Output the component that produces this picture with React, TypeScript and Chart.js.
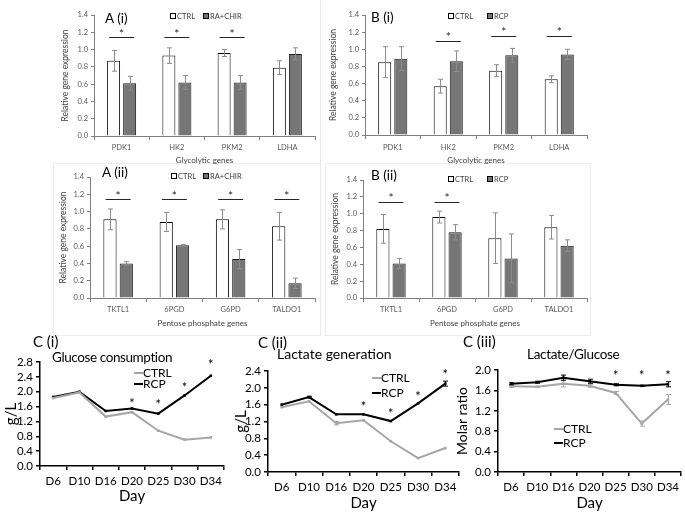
import React, { useEffect, useRef } from "react";
import { Chart, registerables } from "chart.js";
Chart.register(...registerables);

const FONT = "Lato, 'Open Sans', sans-serif";
Chart.defaults.font.family = FONT;

// ---------- DATA ----------
const glyGenes = ["PDK1", "HK2", "PKM2", "LDHA"];
const ppGenes = ["TKTL1", "6PGD", "G6PD", "TALDO1"];

const aiCtrl = [0.87, 0.93, 0.96, 0.79];
const aiCtrlErr = [0.12, 0.09, 0.04, 0.08];
const aiTrt = [0.61, 0.62, 0.62, 0.95];
const aiTrtErr = [0.08, 0.08, 0.08, 0.07];
const aiSigLine = [1.14, 1.14, 1.14, null];

const biCtrl = [0.85, 0.57, 0.75, 0.65];
const biCtrlErr = [0.18, 0.08, 0.07, 0.04];
const biTrt = [0.89, 0.86, 0.93, 0.94];
const biTrtErr = [0.14, 0.12, 0.08, 0.06];
const biSigLine = [null, 1.1, 1.16, 1.16];

const aiiCtrl = [0.91, 0.88, 0.91, 0.83];
const aiiCtrlErr = [0.12, 0.11, 0.11, 0.16];
const aiiTrt = [0.4, 0.61, 0.45, 0.17];
const aiiTrtErr = [0.02, 0.01, 0.11, 0.06];
const aiiSigLine = [1.14, 1.14, 1.14, 1.14];

const biiCtrl = [0.82, 0.96, 0.71, 0.84];
const biiCtrlErr = [0.17, 0.07, 0.3, 0.14];
const biiTrt = [0.41, 0.78, 0.47, 0.62];
const biiTrtErr = [0.06, 0.09, 0.29, 0.07];
const biiSigLine = [1.14, 1.14, null, null];

const barTicks = [0, 0.2, 0.4, 0.6, 0.8, 1.0, 1.2, 1.4];

const days = ["D6", "D10", "D16", "D20", "D25", "D30", "D34"];

const glucoseTicks = [0, 0.4, 0.8, 1.2, 1.6, 2.0, 2.4, 2.8];
const glucoseCtrl = [1.83, 1.98, 1.33, 1.45, 0.95, 0.71, 0.77];
const glucoseRcp = [1.86, 2.0, 1.48, 1.55, 1.41, 1.9, 2.43];
const glucoseStars = [null, null, null, 1.77, 1.75, 2.22, 2.83];

const lactateTicks = [0, 0.4, 0.8, 1.2, 1.6, 2.0, 2.4];
const lactateCtrl = [1.54, 1.68, 1.16, 1.23, 0.73, 0.33, 0.57];
const lactateCtrlErr = [0, 0, 0.04, 0, 0, 0, 0];
const lactateRcp = [1.6, 1.78, 1.37, 1.37, 1.21, 1.63, 2.1];
const lactateRcpErr = [0, 0.02, 0, 0, 0, 0, 0.06];
const lactateStars = [null, null, null, 1.64, 1.47, 1.87, 2.4];

const ratioTicks = [0, 0.4, 0.8, 1.2, 1.6, 2.0];
const ratioCtrl = [1.68, 1.67, 1.73, 1.69, 1.55, 0.95, 1.42];
const ratioCtrlErr = [0.02, 0.01, 0.06, 0.03, 0.03, 0.05, 0.1];
const ratioRcp = [1.73, 1.76, 1.85, 1.78, 1.71, 1.69, 1.72];
const ratioRcpErr = [0.02, 0.02, 0.05, 0.04, 0.02, 0.01, 0.05];
const ratioStars = [null, null, null, null, 1.97, 1.97, 1.97];

// ---------- PLUGINS ----------
const errorBarPlugin = {
  id: "errbars",
  afterDatasetsDraw(chart: any, _args: any, opts: any) {
    const ctx = chart.ctx;
    const ys = chart.scales.y;
    chart.data.datasets.forEach((ds: any, i: number) => {
      const errs = ds.errors;
      if (!errs) return;
      const meta = chart.getDatasetMeta(i);
      ctx.save();
      ctx.strokeStyle = ds.errColor || "#8c8c8c";
      ctx.lineWidth = 1;
      meta.data.forEach((el: any, j: number) => {
        const e = errs[j];
        if (!e) return;
        const v = ds.data[j];
        const x = Math.round(el.x) + 0.5;
        const y1 = ys.getPixelForValue(v + e);
        const y2 = ys.getPixelForValue(v - e);
        const cap = opts.cap || 2.5;
        ctx.beginPath();
        ctx.moveTo(x, y1);
        ctx.lineTo(x, y2);
        ctx.moveTo(x - cap, y1);
        ctx.lineTo(x + cap, y1);
        ctx.moveTo(x - cap, y2);
        ctx.lineTo(x + cap, y2);
        ctx.stroke();
      });
      ctx.restore();
    });
  },
};

const sigPlugin = {
  id: "sig",
  afterDatasetsDraw(chart: any, _args: any, opts: any) {
    if (!opts || !opts.values) return;
    const ctx = chart.ctx;
    const xs = chart.scales.x;
    const ys = chart.scales.y;
    ctx.save();
    ctx.fillStyle = opts.color || "#000";
    ctx.strokeStyle = opts.color || "#000";
    ctx.lineWidth = 1;
    ctx.font = `${opts.size || 8}px ${FONT}`;
    ctx.textAlign = "center";
    ctx.textBaseline = "middle";
    opts.values.forEach((v: number | null, j: number) => {
      if (v == null) return;
      const x = xs.getPixelForValue(j);
      const y = Math.round(ys.getPixelForValue(v)) + 0.5;
      if (opts.line) {
        ctx.beginPath();
        ctx.moveTo(x - opts.half, y);
        ctx.lineTo(x + opts.half, y);
        ctx.stroke();
        ctx.fillText("*", x, ys.getPixelForValue(v + opts.starOffset) + opts.starShift);
      } else {
        ctx.fillText("*", x, y + opts.starShift);
      }
    });
    ctx.restore();
  },
};

Chart.register(errorBarPlugin as any, sigPlugin as any);

// ---------- CONFIG BUILDERS ----------
function barConfig(p: any) {
  const tickColor = "#595959";
  return {
    type: "bar",
    data: {
      labels: p.labels,
      datasets: [
        {
          label: "CTRL",
          data: p.ctrl,
          errors: p.ctrlErr,
          backgroundColor: "#ffffff",
          borderColor: "#000000",
          borderWidth: 1,
          categoryPercentage: 0.58,
          barPercentage: 0.81,
        },
        {
          label: p.trtLabel,
          data: p.trt,
          errors: p.trtErr,
          backgroundColor: "#767676",
          borderColor: "#1a1a1a",
          borderWidth: 1,
          categoryPercentage: 0.58,
          barPercentage: 0.81,
        },
      ],
    },
    options: {
      responsive: false,
      animation: false,
      devicePixelRatio: 1,
      layout: { padding: { top: p.padTop, right: p.padRight, left: 0, bottom: 0 } },
      plugins: {
        legend: { display: false },
        tooltip: { enabled: false },
        errbars: { cap: 2.5 },
        sig: { values: p.sig, line: true, half: 12.5, starOffset: 0.085, starShift: 3.5, size: 12, color: "#262626" },
      },
      scales: {
        x: {
          offset: true,
          grid: { display: true, drawOnChartArea: false, drawTicks: true, tickLength: 4, color: "#7f7f7f", offset: true },
          border: { display: true, color: "#7f7f7f", width: 1 },
          ticks: { font: { size: 7.5 }, color: tickColor, padding: p.xTickPad, maxRotation: 0, autoSkip: false },
          title: { display: true, text: p.xTitle, font: { size: 8 }, color: "#404040", padding: { top: 0, bottom: p.xTitlePad } },
          afterFit: (s: any) => { s.height = p.xHeight; },
        },
        y: {
          min: 0,
          max: 1.4,
          afterBuildTicks: (s: any) => { s.ticks = barTicks.map((v) => ({ value: v })); },
          ticks: { font: { size: 7.5 }, color: tickColor, padding: 3, autoSkip: false, callback: (v: any) => Number(v).toFixed(1) },
          grid: { display: true, drawOnChartArea: false, drawTicks: true, tickLength: 3, color: "#7f7f7f" },
          border: { display: true, color: "#7f7f7f", width: 1 },
          title: { display: true, text: "Relative gene expression", font: { size: 8.5 }, color: "#404040", padding: { top: p.yTitlePad, bottom: 0 } },
          afterFit: (s: any) => { s.width = p.yWidth; },
        },
      },
    },
  };
}

function lineConfig(p: any) {
  const ds = (label: string, data: number[], errs: number[] | undefined, color: string) => ({
    label,
    data,
    errors: errs,
    errColor: color,
    borderColor: color,
    backgroundColor: color,
    borderWidth: 2,
    pointStyle: "rect",
    pointRadius: 1.8,
    pointBorderWidth: 0,
    tension: 0,
  });
  return {
    type: "line",
    data: {
      labels: days,
      datasets: [ds("CTRL", p.ctrl, p.ctrlErr, "#a6a6a6"), ds("RCP", p.rcp, p.rcpErr, "#000000")],
    },
    options: {
      responsive: false,
      animation: false,
      devicePixelRatio: 1,
      layout: { padding: { top: p.padTop, right: p.padRight, left: 0, bottom: 0 } },
      plugins: {
        legend: { display: false },
        tooltip: { enabled: false },
        errbars: { cap: 2.5 },
        sig: { values: p.stars, line: false, starShift: 3.5, size: 13, color: "#000" },
      },
      scales: {
        x: {
          offset: true,
          grid: { display: true, drawOnChartArea: false, drawTicks: true, tickLength: 4, color: "#000", offset: true, lineWidth: 1.5 },
          border: { display: true, color: "#000", width: 1.5 },
          ticks: { font: { size: 11.5 }, color: "#000", padding: 4, maxRotation: 0, autoSkip: false },
          title: { display: true, text: "Day", font: { size: 15 }, color: "#000", padding: { top: 0, bottom: p.xTitlePad } },
          afterFit: (s: any) => { s.height = p.xHeight; },
        },
        y: {
          min: 0,
          max: p.max,
          afterBuildTicks: (s: any) => { s.ticks = p.ticks.map((v: number) => ({ value: v })); },
          ticks: { autoSkip: false, font: { size: 11.5 }, color: "#000", padding: 3, callback: (v: any) => Number(v).toFixed(1) },
          grid: { display: true, drawOnChartArea: false, drawTicks: true, tickLength: 4, color: "#000", lineWidth: 1.5 },
          border: { display: true, color: "#000", width: 1.5 },
          title: { display: true, text: p.yTitle, font: { size: p.yTitleSize }, color: "#000", padding: { top: p.yTitlePad, bottom: 0 } },
          afterFit: (s: any) => { s.width = p.yWidth; },
        },
      },
    },
  };
}

// ---------- COMPONENTS ----------
function ChartBox({ left, top, width, height, config }: any) {
  const ref = useRef<HTMLCanvasElement>(null);
  useEffect(() => {
    const c = new Chart(ref.current as HTMLCanvasElement, config);
    return () => c.destroy();
  }, []);
  return (
    <canvas
      ref={ref}
      width={width}
      height={height}
      style={{ position: "absolute", left, top, width, height }}
    />
  );
}

function Txt({ x, y, s, children, color = "#000", ls = 0 }: any) {
  return (
    <div
      style={{
        position: "absolute",
        left: x,
        top: y - s * 0.6,
        fontSize: s,
        lineHeight: `${s * 1.2}px`,
        fontFamily: FONT,
        color,
        whiteSpace: "nowrap",
        letterSpacing: ls,
      }}
    >
      {children}
    </div>
  );
}

function BarLegend({ x, y, x2, trtLabel }: any) {
  const box = (fill: string, lx: number) => (
    <div
      style={{
        position: "absolute",
        left: lx,
        top: y - 3,
        width: 4,
        height: 4,
        background: fill,
        border: "1px solid #000",
      }}
    />
  );
  return (
    <>
      {box("#fff", x)}
      <Txt x={x + 7} y={y} s={7.5} color="#404040">CTRL</Txt>
      {box("#767676", x2)}
      <Txt x={x2 + 7} y={y} s={7.5} color="#404040">{trtLabel}</Txt>
    </>
  );
}

function LineLegend({ x, y1, y2 }: any) {
  const ln = (c: string, y: number) => (
    <div style={{ position: "absolute", left: x, top: y - 1, width: 9, height: 2, background: c }} />
  );
  return (
    <>
      {ln("#a6a6a6", y1)}
      <Txt x={x + 9} y={y1} s={12}>CTRL</Txt>
      {ln("#000", y2)}
      <Txt x={x + 9} y={y2} s={12}>RCP</Txt>
    </>
  );
}

function Box({ l, t, w, h, sides = "all" }: any) {
  const b = "1px solid #ececec";
  const st: any = { position: "absolute", left: l, top: t, width: w, height: h, boxSizing: "border-box" };
  if (sides === "all") st.border = b;
  else st.borderRight = b;
  return <div style={st} />;
}

export default function App() {
  return (
    <div
      style={{
        position: "absolute",
        left: 0,
        top: 0,
        width: 685,
        height: 512,
        background: "#fff",
        overflow: "hidden",
        fontFamily: FONT,
      }}
    >
      <Box l={53} t={-1} w={268} h={165} sides="right" />
      <Box l={53} t={163} w={268} h={173} />
      <Box l={325} t={163} w={266} h={173} />

      <ChartBox
        left={55}
        top={0}
        width={265}
        height={170}
        config={barConfig({
          labels: glyGenes, ctrl: aiCtrl, ctrlErr: aiCtrlErr, trt: aiTrt, trtErr: aiTrtErr, trtLabel: "RA+CHIR",
          sig: aiSigLine, xTitle: "Glycolytic genes", padTop: 15, padRight: 5, xHeight: 34, yWidth: 39,
          yTitlePad: 5, xTitlePad: 5, xTickPad: 3,
        })}
      />
      <ChartBox
        left={325}
        top={0}
        width={265}
        height={170}
        config={barConfig({
          labels: glyGenes, ctrl: biCtrl, ctrlErr: biCtrlErr, trt: biTrt, trtErr: biTrtErr, trtLabel: "RCP",
          sig: biSigLine, xTitle: "Glycolytic genes", padTop: 15, padRight: 3, xHeight: 35, yWidth: 40,
          yTitlePad: 3, xTitlePad: 5, xTickPad: 4,
        })}
      />
      <ChartBox
        left={55}
        top={165}
        width={265}
        height={170}
        config={barConfig({
          labels: ppGenes, ctrl: aiiCtrl, ctrlErr: aiiCtrlErr, trt: aiiTrt, trtErr: aiiTrtErr, trtLabel: "RA+CHIR",
          sig: aiiSigLine, xTitle: "Pentose phosphate genes", padTop: 12, padRight: 5, xHeight: 37, yWidth: 35,
          yTitlePad: 3, xTitlePad: 7, xTickPad: 3,
        })}
      />
      <ChartBox
        left={325}
        top={165}
        width={265}
        height={170}
        config={barConfig({
          labels: ppGenes, ctrl: biiCtrl, ctrlErr: biiCtrlErr, trt: biiTrt, trtErr: biiTrtErr, trtLabel: "RCP",
          sig: biiSigLine, xTitle: "Pentose phosphate genes", padTop: 15, padRight: 3, xHeight: 37, yWidth: 38,
          yTitlePad: 5, xTitlePad: 7, xTickPad: 3,
        })}
      />

      <ChartBox
        left={0}
        top={330}
        width={228}
        height={182}
        config={lineConfig({
          ctrl: glucoseCtrl, rcp: glucoseRcp, stars: glucoseStars, max: 2.8, ticks: glucoseTicks, yTitle: "g/L", yTitleSize: 15,
          padTop: 32, padRight: 3, xHeight: 46, yWidth: 40, yTitlePad: 2, xTitlePad: 7,
        })}
      />
      <ChartBox
        left={228}
        top={330}
        width={235}
        height={182}
        config={lineConfig({
          ctrl: lactateCtrl, ctrlErr: lactateCtrlErr, rcp: lactateRcp, rcpErr: lactateRcpErr, stars: lactateStars,
          max: 2.4, ticks: lactateTicks, yTitle: "g/L", yTitleSize: 15,
          padTop: 41, padRight: 3, xHeight: 40, yWidth: 40, yTitlePad: 4, xTitlePad: 0,
        })}
      />
      <ChartBox
        left={452}
        top={330}
        width={233}
        height={182}
        config={lineConfig({
          ctrl: ratioCtrl, ctrlErr: ratioCtrlErr, rcp: ratioRcp, rcpErr: ratioRcpErr, stars: ratioStars,
          max: 2.0, ticks: ratioTicks, yTitle: "Molar ratio", yTitleSize: 14,
          padTop: 40, padRight: 1, xHeight: 40, yWidth: 46, yTitlePad: 2, xTitlePad: 0,
        })}
      />

      {/* Panel labels and legends */}
      <Txt x={105} y={18} s={13.5}>A (i)</Txt>
      <BarLegend x={170} x2={203} y={16} trtLabel="RA+CHIR" />
      <Txt x={371} y={17} s={13.5}>B (i)</Txt>
      <BarLegend x={448} x2={487} y={16} trtLabel="RCP" />
      <Txt x={102} y={172} s={13.5}>A (ii)</Txt>
      <BarLegend x={171} x2={203} y={176} trtLabel="RA+CHIR" />
      <Txt x={371} y={175} s={13.5}>B (ii)</Txt>
      <BarLegend x={448} x2={487} y={179} trtLabel="RCP" />

      <Txt x={33} y={341} s={15}>C (i)</Txt>
      <Txt x={52} y={357} s={13.5} ls={-0.4}>Glucose consumption</Txt>
      <LineLegend x={134} y1={373} y2={384} />
      <Txt x={258} y={342} s={15}>C (ii)</Txt>
      <Txt x={277} y={354} s={14}>Lactate generation</Txt>
      <LineLegend x={372} y1={378} y2={393} />
      <Txt x={463} y={341} s={15}>C (iii)</Txt>
      <Txt x={527} y={354} s={13.5} ls={-0.3}>Lactate/Glucose</Txt>
      <LineLegend x={554} y1={429} y2={443} />
    </div>
  );
}
